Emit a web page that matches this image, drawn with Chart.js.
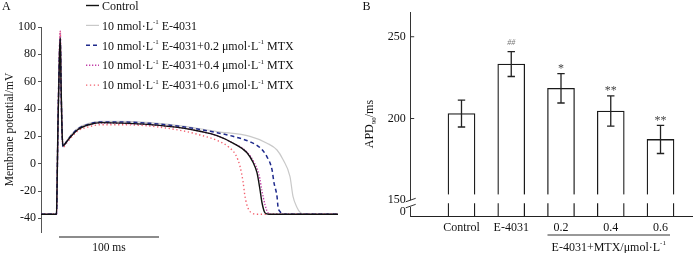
<!DOCTYPE html>
<html><head><meta charset="utf-8">
<script src="https://cdn.jsdelivr.net/npm/chart.js@4.4.1/dist/chart.umd.min.js"></script>
<style>
html,body{margin:0;padding:0;background:#fff;}
#wrap{position:relative;width:700px;height:253px;overflow:hidden;background:#fff;}
#a{position:absolute;left:0;top:0;}
#b{position:absolute;left:345px;top:0;}
</style></head><body>
<div id="wrap">
<canvas id="a" width="345" height="253"></canvas>
<canvas id="b" width="355" height="253"></canvas>
</div>
<script>
// ---------- Panel A: action potentials (time in ms, potential in mV) ----------
const tControl = [0,15.5,16,17,18.5,19.3,20,21,22,25,30,37,48,60,80,109,142,160,176,192,206,212,216,219,221,224,228,297];
const vControl = [-37,-37,-20,30,80,92,60,25,13,15.5,20,25,28.5,30,29.7,28.6,26,23.5,20.5,15,8,1,-6.6,-19,-28.6,-36,-37,-37];

const tE4031 = [0,15.5,16,17,18.5,19.3,20,21,22,25,30,37,48,60,80,109,142,176,209,226,236,242,249,252,256,259,263,297];
const vE4031 = [-37,-37,-20,30,82,95,60,25,13,16,21,26,29.5,31,31,30,27.5,23.5,20,15,10,3,-9.5,-24,-32,-35.5,-37,-37];

const tMtx02 = [0,15.5,16,17,18.5,19.3,20,21,22,25,30,37,48,60,80,109,142,176,192,209,219,226,231,233,236,237,239,243,297];
const vMtx02 = [-37,-37,-20,30,80,91,60,25,12.5,15.5,20.5,25.5,29,30.5,30.5,29.5,27,22.7,20,16,11.7,5,-4.4,-14,-24,-31.5,-35,-37,-37];

const tMtx04 = [0,15.5,16,17,18.5,19.3,20,21,22,25,30,37,48,60,80,109,142,160,176,192,206,213,218,221,224,227,231,297];
const vMtx04 = [-37,-37,-20,30,85,97,60,25,13,15.5,20,25,28.5,29.8,29.5,28.5,26,23.5,20.5,15,8.5,1,-8,-20,-30,-36,-37,-37];

const tMtx06 = [0,15.5,16,17,18.5,19.3,20,21,22,25,30,37,48,60,80,109,142,159,176,188,195,199,202,204,207,212,217,297];
const vMtx06 = [-37,-37,-20,30,85,97,60,25,12,14.5,19,24,27,28.5,28.5,27.5,24,21,17,12,6,-2,-13,-24,-32.5,-36.5,-37,-37];

const seriesLabels = [
  'Control',
  '10 nmol·L^{-1} E-4031',
  '10 nmol·L^{-1} E-4031+0.2 μmol·L^{-1} MTX',
  '10 nmol·L^{-1} E-4031+0.4 μmol·L^{-1} MTX',
  '10 nmol·L^{-1} E-4031+0.6 μmol·L^{-1} MTX'
];
const yTicksA = [-40,-20,0,20,40,60,80,100];
const scaleBarMs = [18, 118];
const scaleBarLabel = '100 ms';

// ---------- Panel B: APD90 ----------
const categories = ['Control','E-4031','0.2','0.4','0.6'];
const apd90 = [203, 233.3, 218.5, 204.6, 187.2];
const apdErr = [8.2, 7.6, 9.0, 9.3, 8.6];
const sigMarks = ['', '##', '*', '**', '**'];
const yTickValuesB = [0, 150, 200, 250];
const groupLabel = 'E-4031+MTX/μmol·L^{-1}';

const FONT = "'Liberation Serif','Times New Roman',serif";
const fontOf = (s, italic) => (italic ? 'italic ' : '') + s + 'px ' + FONT;

function richParts(str){
  const parts=[]; const re=/(\^|_)\{([^}]*)\}/g; let last=0,m;
  while((m=re.exec(str))){
    if(m.index>last) parts.push({t:str.slice(last,m.index),mode:0});
    parts.push({t:m[2],mode:m[1]==='^'?1:-1}); last=re.lastIndex;
  }
  if(last<str.length) parts.push({t:str.slice(last),mode:0});
  return parts;
}
function drawRich(ctx,str,x,y,size,align){
  const parts=richParts(str);
  const sz=p=>p.mode?size*0.58:size;
  let w=0; parts.forEach(p=>{ctx.font=fontOf(sz(p)); w+=ctx.measureText(p.t).width;});
  let cx = align==='center'? x-w/2 : x;
  ctx.textAlign='left'; ctx.textBaseline='alphabetic';
  parts.forEach(p=>{
    ctx.font=fontOf(sz(p));
    const dy = p.mode===1 ? -size*0.45 : p.mode===-1 ? size*0.22 : 0;
    ctx.fillText(p.t,cx,y+dy); cx+=ctx.measureText(p.t).width;
  });
  return w;
}
const pts = (t,v) => t.map((x,i)=>({x:x,y:v[i]}));

// ---------- Chart A ----------
const legendA = {
  id:'legendA',
  afterDraw(chart){
    const ctx=chart.ctx; ctx.save();
    ctx.fillStyle='#111'; ctx.font=fontOf(12); ctx.textBaseline='middle'; ctx.textAlign='left';
    ctx.fillText('A',2,7);
    chart.data.datasets.forEach((ds,i)=>{
      const y = 5.5 + i*19.9;
      ctx.beginPath(); ctx.strokeStyle=ds.borderColor; ctx.lineWidth=ds.borderWidth;
      ctx.setLineDash(ds.borderDash||[]);
      ctx.moveTo(86,y); ctx.lineTo(99,y); ctx.stroke(); ctx.setLineDash([]);
      ctx.fillStyle='#111';
      drawRich(ctx, seriesLabels[i], 102, y+4.2, 12, 'left');
    });
    const xs=chart.scales.x, ca=chart.chartArea;
    const x1=xs.getPixelForValue(scaleBarMs[0]), x2=xs.getPixelForValue(scaleBarMs[1]);
    const yb=ca.bottom+5;
    ctx.beginPath(); ctx.strokeStyle='#666'; ctx.lineWidth=1.4; ctx.moveTo(x1,yb); ctx.lineTo(x2,yb); ctx.stroke();
    ctx.fillStyle='#111'; ctx.font=fontOf(11.5); ctx.textAlign='center'; ctx.textBaseline='middle';
    ctx.fillText(scaleBarLabel,(x1+x2)/2,yb+11);
    ctx.restore();
  }
};

new Chart(document.getElementById('a'), {
  type:'line',
  data:{datasets:[
    {label:seriesLabels[0], data:pts(tControl,vControl), borderColor:'#111111', borderWidth:1.4, order:0},
    {label:seriesLabels[1], data:pts(tE4031,vE4031), borderColor:'#c9c9c9', borderWidth:1.2, order:4},
    {label:seriesLabels[2], data:pts(tMtx02,vMtx02), borderColor:'#1f2a8c', borderWidth:1.5, borderDash:[4,3], order:1},
    {label:seriesLabels[3], data:pts(tMtx04,vMtx04), borderColor:'#c23fa8', borderWidth:1.4, borderDash:[1.3,1.7], order:2},
    {label:seriesLabels[4], data:pts(tMtx06,vMtx06), borderColor:'#f2606e', borderWidth:1.4, borderDash:[1.3,2.6], order:3}
  ]},
  options:{
    responsive:false, animation:false, devicePixelRatio:1,
    layout:{padding:{left:0,right:7,top:27,bottom:21}},
    elements:{point:{radius:0}, line:{cubicInterpolationMode:'monotone', fill:false}},
    plugins:{legend:{display:false}, tooltip:{enabled:false}},
    scales:{
      x:{type:'linear', min:0, max:297, display:false},
      y:{min:-50, max:100,
        afterFit(s){s.width=41;},
        afterBuildTicks(s){s.ticks=yTicksA.map(v=>({value:v}));},
        ticks:{font:{family:FONT,size:12}, color:'#111', padding:2},
        grid:{display:true, drawOnChartArea:false, drawTicks:true, tickLength:3, color:'#555'},
        border:{display:true, color:'#555', width:1},
        title:{display:true, text:'Membrane potential/mV', font:{family:FONT,size:11.5}, color:'#111', padding:{top:3,bottom:0}}
      }
    }
  },
  plugins:[legendA]
});

// ---------- Chart B ----------
const Y_MIN_B = 140.4, Y_MAX_B = 265, ZERO_AXIS = 142.8, BREAK_AT = 150;
const axisPos = v => v >= BREAK_AT ? v : ZERO_AXIS + v*(BREAK_AT-ZERO_AXIS)/BREAK_AT;

const decorB = {
  id:'decorB',
  afterDatasetsDraw(chart){
    const ctx=chart.ctx, xs=chart.scales.x, ys=chart.scales.y, ca=chart.chartArea;
    ctx.save();
    const meta=chart.getDatasetMeta(0);
    const gTop=ys.getPixelForValue(153.6), gBot=ys.getPixelForValue(148.2);
    meta.data.forEach(bar=>{
      ctx.fillStyle='#fff'; ctx.fillRect(bar.x-bar.width/2-2, gTop, bar.width+4, gBot-gTop);
    });
    apd90.forEach((v,i)=>{
      const x=xs.getPixelForValue(i), yT=ys.getPixelForValue(v+apdErr[i]), yB=ys.getPixelForValue(v-apdErr[i]);
      ctx.strokeStyle='#222'; ctx.lineWidth=1.3; ctx.beginPath();
      ctx.moveTo(x,yT); ctx.lineTo(x,yB);
      ctx.moveTo(x-3.7,yT); ctx.lineTo(x+3.7,yT);
      ctx.moveTo(x-3.7,yB); ctx.lineTo(x+3.7,yB); ctx.stroke();
      if(sigMarks[i]){
        ctx.textAlign='center'; ctx.textBaseline='middle';
        if(sigMarks[i].startsWith('#')){ctx.font=fontOf(8,true); ctx.fillStyle='#777'; ctx.fillText(sigMarks[i],x,yT-8.5);}
        else {ctx.font=fontOf(12); ctx.fillStyle='#444'; ctx.fillText(sigMarks[i],x,yT-5);}
      }
    });
    const ax=ca.left, bTop=ys.getPixelForValue(150), bBot=ys.getPixelForValue(146);
    ctx.fillStyle='#fff'; ctx.fillRect(ax-2,bTop,4,bBot-bTop);
    ctx.strokeStyle='#333'; ctx.lineWidth=1; ctx.beginPath();
    ctx.moveTo(ax-5,bTop+1.5); ctx.lineTo(ax+5,bTop-2);
    ctx.moveTo(ax-5,bBot+1); ctx.lineTo(ax+5,bBot-2.5); ctx.stroke();
    ctx.beginPath(); ctx.strokeStyle='#333'; ctx.lineWidth=1;
    yTickValuesB.filter(v=>v>BREAK_AT).forEach(v=>{const y=ys.getPixelForValue(axisPos(v)); ctx.moveTo(ax,y); ctx.lineTo(ax+3.5,y);});
    ctx.stroke();
    const gx1=xs.getPixelForValue(2)-13.5, gx2=xs.getPixelForValue(4)+9.5, gy=ca.bottom+19;
    ctx.beginPath(); ctx.strokeStyle='#333'; ctx.lineWidth=1; ctx.moveTo(gx1,gy); ctx.lineTo(gx2,gy); ctx.stroke();
    ctx.fillStyle='#111';
    drawRich(ctx, groupLabel, (gx1+gx2)/2, gy+15.5, 12, 'center');
    ctx.save();
    ctx.translate(24,(ca.top+ca.bottom)/2+10); ctx.rotate(-Math.PI/2);
    ctx.fillStyle='#111';
    drawRich(ctx,'APD_{90}/ms',0,4,12,'center');
    ctx.restore();
    ctx.fillStyle='#111'; ctx.font=fontOf(12); ctx.textAlign='left'; ctx.textBaseline='middle';
    ctx.fillText('B',17.5,7);
    ctx.restore();
  }
};

new Chart(document.getElementById('b'), {
  type:'bar',
  data:{datasets:[{
    data: apd90.map((v,i)=>({x:i,y:v})),
    backgroundColor:'#ffffff', borderColor:'#1a1a1a', borderWidth:1.3,
    barThickness:27, base:Y_MIN_B, borderSkipped:'start'
  }]},
  options:{
    responsive:false, animation:false, devicePixelRatio:1,
    layout:{padding:{left:0,right:8,top:9,bottom:0}},
    plugins:{legend:{display:false}, tooltip:{enabled:false}},
    scales:{
      x:{type:'linear', min:-1.021, max:4.633, offset:false, bounds:'ticks',
        afterBuildTicks(s){s.ticks=categories.map((c,i)=>({value:i}));},
        afterFit(s){s.height=37;},
        ticks:{callback:(v,idx)=>categories[idx], font:{family:FONT,size:12}, color:'#111', padding:5, maxRotation:0, autoSkip:false},
        grid:{display:false, drawTicks:false, offset:false},
        border:{display:true, color:'#222', width:1}
      },
      y:{min:Y_MIN_B, max:Y_MAX_B,
        afterFit(s){s.width=65.7;},
        afterBuildTicks(s){s.ticks=yTickValuesB.map(v=>({value:axisPos(v)}));},
        ticks:{callback:(v,idx)=>String(yTickValuesB[idx]), font:{family:FONT,size:12}, color:'#111', padding:5},
        grid:{display:false, drawTicks:false},
        border:{display:true, color:'#333', width:1}
      }
    }
  },
  plugins:[decorB]
});
</script>
</body></html>
